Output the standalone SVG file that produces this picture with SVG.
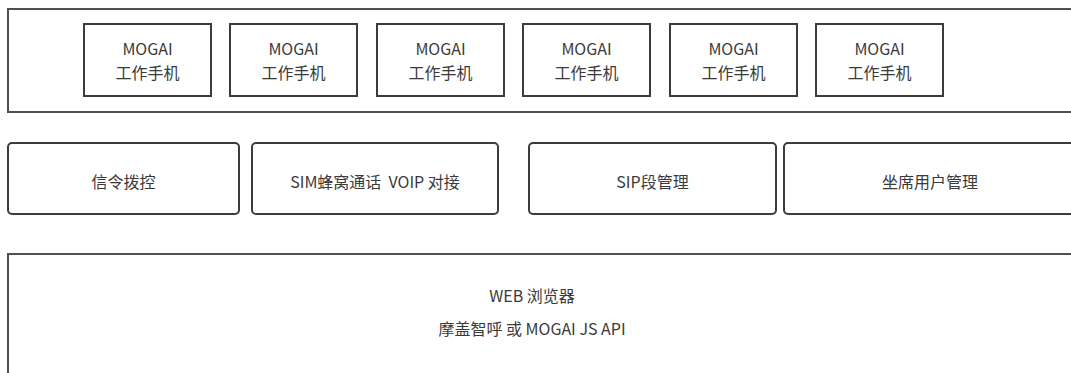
<svg xmlns="http://www.w3.org/2000/svg" width="1071" height="373" viewBox="0 0 1071 373">
<style>
.frame{fill:#fff;stroke:#505050;stroke-width:2}
.box{fill:#fff;stroke:#3c3c3c;stroke-width:2}
.rbox{fill:#fff;stroke:#3c3c3c;stroke-width:2}
text{font-family:"Noto Sans CJK SC","Noto Sans",sans-serif;font-size:16px;fill:#3a3a3a;text-anchor:middle}
</style>
<rect width="1071" height="373" fill="#fff"/>
<g id="phones-layer">
<rect class="frame" x="8" y="9" width="1080" height="103"/>
</g>
<g id="phone1"><rect class="box" x="84" y="24" width="127" height="72"/><text x="147.5" y="55">MOGAI</text><text x="147.5" y="79">工作手机</text></g>
<g id="phone2"><rect class="box" x="230" y="24" width="127" height="72"/><text x="293.5" y="55">MOGAI</text><text x="293.5" y="79">工作手机</text></g>
<g id="phone3"><rect class="box" x="377" y="24" width="127" height="72"/><text x="440.5" y="55">MOGAI</text><text x="440.5" y="79">工作手机</text></g>
<g id="phone4"><rect class="box" x="523" y="24" width="127" height="72"/><text x="586.5" y="55">MOGAI</text><text x="586.5" y="79">工作手机</text></g>
<g id="phone5"><rect class="box" x="670" y="24" width="127" height="72"/><text x="733.5" y="55">MOGAI</text><text x="733.5" y="79">工作手机</text></g>
<g id="phone6"><rect class="box" x="816" y="24" width="127" height="72"/><text x="879.5" y="55">MOGAI</text><text x="879.5" y="79">工作手机</text></g>
<g id="signal"><rect class="rbox" x="8" y="143" width="231" height="71" rx="4"/><text x="123.5" y="188">信令拨控</text></g>
<g id="sim"><rect class="rbox" x="252" y="143" width="246" height="71" rx="4"/><text x="375" y="188">SIM蜂窝通话&#160; VOIP 对接</text></g>
<g id="sip"><rect class="rbox" x="529" y="143" width="247" height="71" rx="4"/><text x="652.5" y="188">SIP段管理</text></g>
<g id="agent"><rect class="rbox" x="784" y="143" width="300" height="71" rx="4"/><text x="930" y="188">坐席用户管理</text></g>
<g id="web"><rect class="frame" x="8" y="254" width="1080" height="140"/><text x="532" y="302">WEB 浏览器</text><text x="532" y="335">摩盖智呼 或 MOGAI JS API</text></g>
<g id="connectors"></g>
</svg>
